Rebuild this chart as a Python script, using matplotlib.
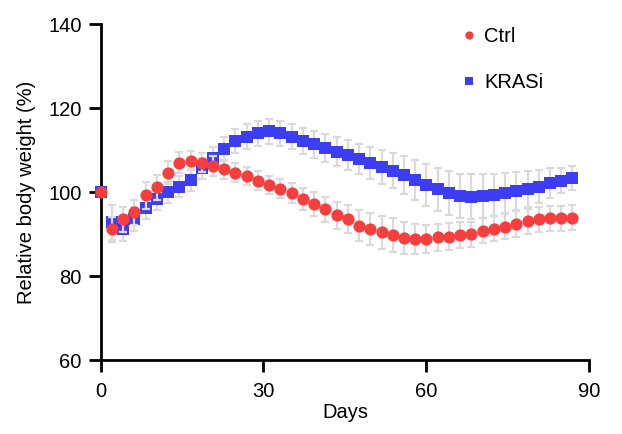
import matplotlib
matplotlib.use("Agg")
import matplotlib.pyplot as plt

plt.rcParams['font.family'] = ['Liberation Sans', 'DejaVu Sans']

days = [0, 2.1, 4.1, 6.2, 8.3, 10.4, 12.4, 14.5, 16.6, 18.6, 20.7, 22.8, 24.8,
        26.9, 29.0, 31.1, 33.1, 35.2, 37.3, 39.3, 41.4, 43.5, 45.5, 47.6, 49.7,
        51.8, 53.8, 55.9, 58.0, 60.0, 62.1, 64.2, 66.2, 68.3, 70.4, 72.5, 74.5,
        76.6, 78.7, 80.7, 82.8, 84.9, 86.9]

ctrl = [100.0, 91.1, 93.5, 95.2, 99.2, 101.1, 104.6, 107.0, 107.5, 107.0, 106.2,
        105.4, 104.6, 103.8, 102.7, 101.7, 100.8, 99.8, 98.3, 97.1, 95.9, 94.5,
        93.6, 92.0, 91.2, 90.4, 89.8, 89.1, 88.9, 88.8, 89.2, 89.4, 89.8, 89.9,
        90.8, 91.3, 91.7, 92.4, 93.0, 93.5, 93.7, 93.7, 93.9]
ctrl_err = [0, 3.0, 3.0, 3.0, 3.2, 3.0, 2.8, 2.5, 2.3, 2.3, 2.3, 2.3, 2.2, 2.2,
            2.2, 2.2, 2.2, 2.4, 2.6, 2.8, 3.0, 3.2, 3.4, 3.6, 3.8, 3.9, 4.0, 3.8,
            3.6, 3.4, 3.3, 3.2, 3.1, 3.0, 3.0, 3.0, 3.0, 3.0, 3.0, 3.0, 3.0, 3.0, 3.0]

krasi = [100.0, 92.8, 91.3, 93.6, 96.1, 98.3, 99.9, 101.3, 102.9, 105.6, 108.0,
         110.2, 112.2, 113.2, 114.0, 114.5, 114.0, 113.2, 112.1, 111.4, 110.4,
         109.6, 108.8, 107.8, 107.0, 106.0, 105.1, 104.0, 102.9, 101.7, 100.6,
         99.8, 99.0, 98.9, 99.0, 99.3, 99.7, 100.2, 100.7, 101.3, 102.1, 102.7, 103.3]
krasi_err = [0, 4.2, 3.0, 2.8, 2.5, 2.5, 2.5, 2.6, 2.6, 2.6, 2.8, 2.8, 2.9, 3.0,
             3.0, 3.0, 3.0, 3.0, 3.1, 3.2, 3.3, 3.4, 3.5, 3.6, 3.8, 4.0, 4.2, 4.5,
             4.7, 5.0, 5.2, 5.3, 5.3, 5.3, 5.2, 5.0, 4.8, 4.5, 4.2, 4.0, 3.5, 3.0, 2.8]

x_ticks = [0, 30, 60, 90]
y_ticks = [60, 80, 100, 120, 140]

RED = '#F53F3F'
BLUE = '#3D3DF4'
ERR = '#DADADA'

fig = plt.figure(figsize=(6.22, 4.34), dpi=100)
ax = fig.add_axes([0.1619, 0.1705, 0.7852, 0.7742])

ax.errorbar(days, krasi, yerr=krasi_err, fmt='none', ecolor=ERR, elinewidth=1.6,
            capsize=2.8, capthick=1.6, zorder=2, clip_on=False)
ax.plot(days, krasi, 's', color=BLUE, markersize=8.0, markeredgewidth=0,
        zorder=3, label='KRASi', clip_on=False)
ax.errorbar(days, ctrl, yerr=ctrl_err, fmt='none', ecolor=ERR, elinewidth=1.6,
            capsize=2.8, capthick=1.6, zorder=4, clip_on=False)
ax.plot(days, ctrl, 'o', color=RED, markersize=8.8, markeredgewidth=0,
        zorder=5, label='Ctrl', clip_on=False)

ax.set_xlim(0, 90)
ax.set_ylim(60, 140)
ax.set_xticks(x_ticks)
ax.set_yticks(y_ticks)
for s in ['top', 'right']:
    ax.spines[s].set_visible(False)
for s in ['left', 'bottom']:
    ax.spines[s].set_linewidth(2.0)
ax.tick_params(axis='both', length=8.6, width=2.0, labelsize=14.5, direction='out')
ax.tick_params(axis='x', pad=7)
ax.tick_params(axis='y', pad=5)
ax.set_xlabel('Days', fontsize=14.5, labelpad=2)
ax.set_ylabel('Relative body weight (%)', fontsize=14.5, labelpad=9)

h, l = ax.get_legend_handles_labels()
leg = ax.legend([h[1], h[0]], [l[1], l[0]], loc='upper left',
                bbox_to_anchor=(0.705, 1.045), frameon=False, fontsize=14.5,
                handlelength=0.6, handletextpad=0.45, labelspacing=1.35,
                markerscale=0.68)

fig.savefig('out.png', dpi=100)
